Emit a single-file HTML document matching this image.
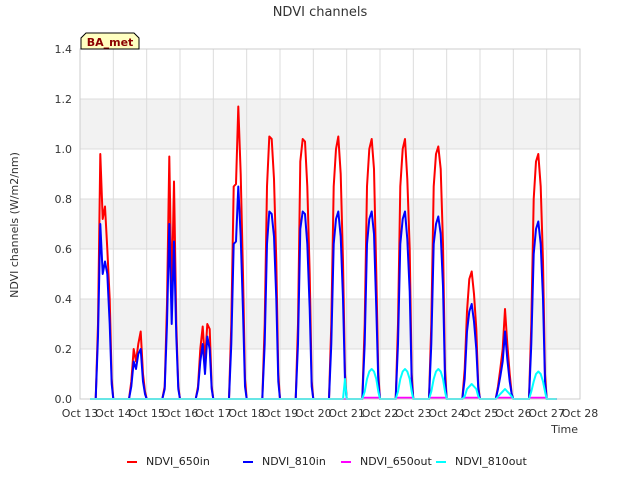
<!DOCTYPE html>
<html><head><meta charset="utf-8"><style>
body{margin:0;background:#fff;font-family:"Liberation Sans","DejaVu Sans",sans-serif;}
svg text{font-family:"DejaVu Sans","Liberation Sans",sans-serif;}
</style></head><body>
<svg id="chart" width="640" height="480" xmlns="http://www.w3.org/2000/svg">
<text x="320" y="16" text-anchor="middle" font-size="13" fill="#333">NDVI channels</text>
<g id="grid"></g>
<g id="series"></g>
<g id="axes"></g>
<text x="18" y="225" transform="rotate(-90 18 225)" text-anchor="middle" font-size="11" fill="#333">NDVI channels (W/m2/nm)</text>
<text x="578" y="433" text-anchor="end" font-size="11" fill="#333">Time</text>
<g>
<path d="M81,49 L81,38 L86,33 L134,33 L139,38 L139,49 Z" fill="#ffffc0" stroke="#000" stroke-width="1"/>
<text x="110" y="46" text-anchor="middle" font-size="11" font-weight="bold" fill="#8b0000">BA_met</text>
</g>
<g id="legend"></g>
</svg>
<script>
const yTicks=[0,0.2,0.4,0.6,0.8,1.0,1.2,1.4];
const xTickLabels=["Oct 13","Oct 14","Oct 15","Oct 16","Oct 17","Oct 18","Oct 19","Oct 20","Oct 21","Oct 22","Oct 23","Oct 24","Oct 25","Oct 26","Oct 27","Oct 28"];
const dayOffsets=[0.47,0.54,0.61,0.68,0.75,0.82,0.89,0.95,1.0];
const in650=[
[0,0.3,0.98,0.72,0.77,0.6,0.4,0.08,0],
[0,0.07,0.2,0.15,0.22,0.27,0.1,0.03,0],
[0,0.05,0.38,0.97,0.4,0.87,0.3,0.05,0],
[0,0.05,0.2,0.29,0.15,0.3,0.28,0.05,0],
[0,0.3,0.85,0.86,1.17,0.9,0.5,0.08,0],
[0,0.3,0.85,1.05,1.04,0.88,0.55,0.1,0],
[0,0.3,0.95,1.04,1.03,0.85,0.5,0.07,0],
[0,0.3,0.85,1.0,1.05,0.9,0.55,0.1,0],
[0,0.3,0.85,1.0,1.04,0.92,0.5,0.1,0],
[0,0.3,0.85,1.0,1.04,0.88,0.6,0.1,0],
[0,0.3,0.85,0.98,1.01,0.92,0.62,0.12,0],
[0,0.12,0.35,0.48,0.51,0.42,0.28,0.05,0],
[0,0.05,0.12,0.2,0.36,0.22,0.1,0.02,0],
[0,0.3,0.8,0.95,0.98,0.85,0.55,0.1,0]];
const in810=[
[0,0.25,0.7,0.5,0.55,0.5,0.3,0.06,0],
[0,0.05,0.15,0.12,0.18,0.2,0.07,0.02,0],
[0,0.04,0.3,0.7,0.3,0.63,0.25,0.04,0],
[0,0.04,0.15,0.22,0.1,0.25,0.2,0.04,0],
[0,0.22,0.62,0.63,0.85,0.65,0.35,0.05,0],
[0,0.22,0.62,0.75,0.74,0.65,0.4,0.07,0],
[0,0.22,0.68,0.75,0.74,0.62,0.36,0.05,0],
[0,0.22,0.62,0.72,0.75,0.65,0.4,0.07,0],
[0,0.22,0.62,0.72,0.75,0.66,0.36,0.07,0],
[0,0.22,0.62,0.72,0.75,0.64,0.43,0.07,0],
[0,0.22,0.62,0.7,0.73,0.66,0.45,0.08,0],
[0,0.08,0.27,0.35,0.38,0.31,0.2,0.04,0],
[0,0.04,0.09,0.15,0.27,0.16,0.07,0.02,0],
[0,0.22,0.58,0.68,0.71,0.62,0.4,0.07,0]];
const out650=[
[0,0,0,0,0,0,0,0,0],[0,0,0,0,0,0,0,0,0],[0,0,0,0,0,0,0,0,0],[0,0,0,0,0,0,0,0,0],
[0,0,0,0,0,0,0,0,0],[0,0,0,0,0,0,0,0,0],[0,0,0,0,0,0,0,0,0],[0,0,0,0,0,0,0,0,0],
[0,0.005,0.005,0.005,0.005,0.005,0.005,0.005,0],[0,0.005,0.005,0.005,0.005,0.005,0.005,0.005,0],
[0,0.005,0.005,0.005,0.005,0.005,0.005,0.005,0],[0,0.005,0.005,0.005,0.005,0.005,0.005,0.005,0],
[0,0.005,0.005,0.005,0.005,0.005,0.005,0.005,0],[0,0.005,0.005,0.005,0.005,0.005,0.005,0.005,0]];
const out810=[
[0,0,0,0,0,0,0,0,0],[0,0,0,0,0,0,0,0,0],[0,0,0,0,0,0,0,0,0],[0,0,0,0,0,0,0,0,0],
[0,0,0,0,0,0,0,0,0],[0,0,0,0,0,0,0,0,0],[0,0,0,0,0,0,0,0,0],
[0,0,0,0,0,0,0,0.08,0],
[0,0.03,0.08,0.11,0.12,0.11,0.08,0.03,0],
[0,0.03,0.08,0.11,0.12,0.11,0.08,0.03,0],
[0,0.03,0.08,0.11,0.12,0.11,0.08,0.03,0],
[0,0.01,0.04,0.05,0.06,0.05,0.04,0.01,0],
[0,0.01,0.02,0.03,0.04,0.03,0.02,0.01,0],
[0,0.03,0.07,0.1,0.11,0.1,0.07,0.03,0]];
const seriesNames=["NDVI_650in","NDVI_810in","NDVI_650out","NDVI_810out"];
const seriesColors=["#ff0000","#0000ff","#ff00ff","#00ffff"];
const baseStart=0.3, baseEnd=14.3;

const NS="http://www.w3.org/2000/svg";
const X0=80,X1=580,Y0=399,Y1=49;
const xs=d=>X0+d*(X1-X0)/15;
const ys=v=>Y0-v*(Y0-Y1)/1.4;
function mk(tag,attrs,parent){const e=document.createElementNS(NS,tag);for(const k in attrs)e.setAttribute(k,attrs[k]);parent.appendChild(e);return e;}
const grid=document.getElementById('grid'),axes=document.getElementById('axes'),ser=document.getElementById('series'),leg=document.getElementById('legend');
mk('rect',{x:X0,y:Y1,width:X1-X0,height:Y0-Y1,fill:'#fff'},grid);
for(let i=0;i<yTicks.length-1;i++){
  if(i%2===1){const r=mk('rect',{x:X0,y:ys(yTicks[i+1]),width:X1-X0,height:ys(yTicks[i])-ys(yTicks[i+1]),fill:'#f2f2f2'},grid);
  
  }
}
yTicks.forEach(v=>{
  const l=mk('line',{x1:X0,x2:X1,y1:ys(v),y2:ys(v),stroke:'#dcdcdc'},grid);
  
  
  const t=mk('text',{x:X0-8,y:ys(v)+4,'text-anchor':'end','font-size':11,fill:'#333'},axes);
  t.textContent=v.toFixed(1);
  
  
});
xTickLabels.forEach((s,i)=>{
  const l=mk('line',{x1:xs(i),x2:xs(i),y1:Y1,y2:Y0,stroke:'#dcdcdc'},grid);
  
  
  const t=mk('text',{x:xs(i),y:Y0+18,'text-anchor':'middle','font-size':11,fill:'#333'},axes);
  t.textContent=s;
  
  
});
mk('rect',{x:X0,y:Y1,width:X1-X0,height:Y0-Y1,fill:'none',stroke:'#cccccc'},axes);
[in650,in810,out650,out810].forEach((arr,si)=>{
  let pts=[[baseStart,0]];
  arr.forEach((day,d)=>day.forEach((v,k)=>pts.push([d+dayOffsets[k],v])));
  pts.push([baseEnd,0]);
  const p=mk('polyline',{points:pts.map(p=>xs(p[0]).toFixed(1)+','+ys(p[1]).toFixed(1)).join(' '),fill:'none',stroke:seriesColors[si],'stroke-width':2,'stroke-linejoin':'round'},ser);
  
  
});
const legX=[127,243,341,436];
seriesNames.forEach((n,i)=>{
  const g=mk('g',{},leg);
  
  
  mk('line',{x1:legX[i],x2:legX[i]+10,y1:462,y2:462,stroke:seriesColors[i],'stroke-width':2},g);
  const t=mk('text',{x:legX[i]+19,y:465,'font-size':11,fill:'#222'},g);
  t.textContent=n;
});
</script>
</body></html>
